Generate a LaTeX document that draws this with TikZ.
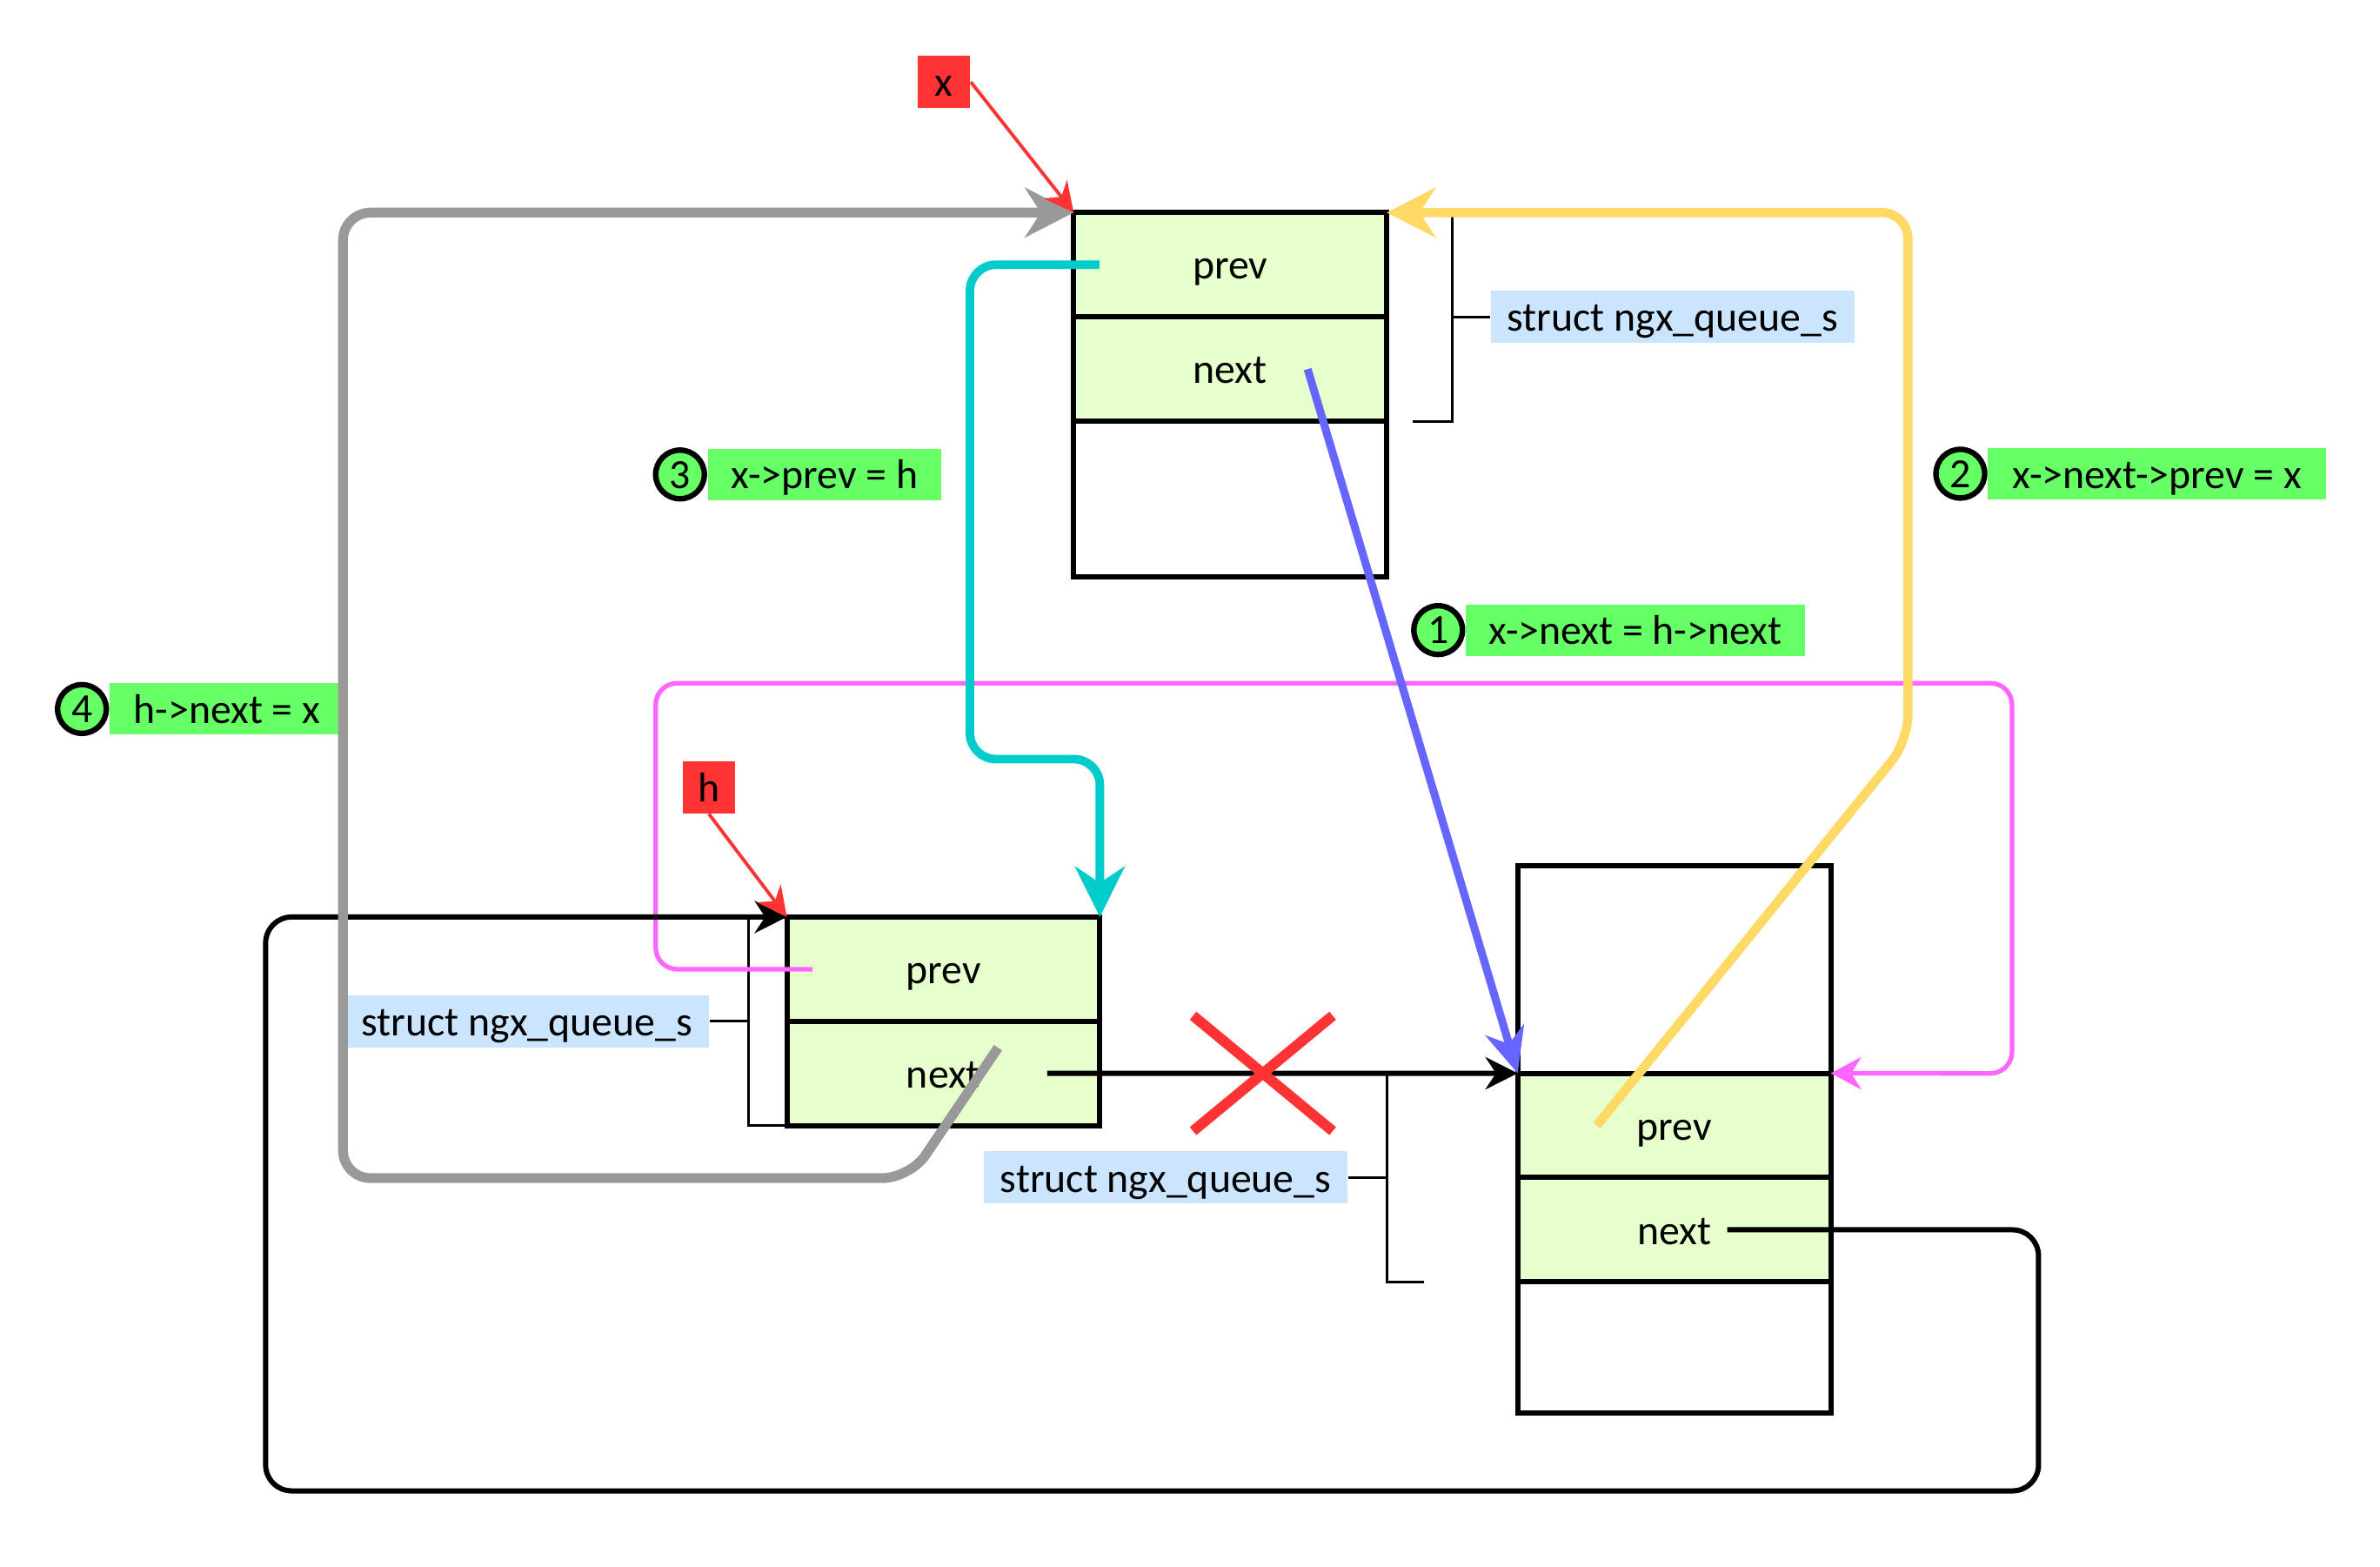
\documentclass[tikz,border=0pt]{standalone}
\usepackage{fontspec}
\setmainfont{Carlito}
\usetikzlibrary{arrows.meta,positioning}
\definecolor{cellgreen}{HTML}{E6FFCC}
\definecolor{stepgreen}{HTML}{66FF66}
\definecolor{ptrred}{HTML}{FF3333}
\definecolor{lblblue}{HTML}{CCE5FF}
\definecolor{linkgray}{HTML}{999999}
\definecolor{linkyellow}{HTML}{FFD966}
\definecolor{linkcyan}{HTML}{00CCCC}
\definecolor{linkblue}{HTML}{6666FF}
\definecolor{linkpink}{HTML}{FF66FF}

\begin{document}
\begin{tikzpicture}[x=0.01745cm,y=-0.01745cm,
		font=\fontsize{13.6pt}{16pt}\selectfont,
		every node/.style={text height=11pt,text depth=1.5pt},
		cell/.style={draw,line width=1.7pt,fill=cellgreen,minimum width=3.6cm,minimum height=1.2cm,inner sep=0pt,outer sep=0pt},
		blank/.style={cell,fill=white},
		ptr/.style={fill=ptrred,minimum width=0.6cm,minimum height=0.6cm,inner sep=0pt},
		structlbl/.style={fill=lblblue,minimum width=4.18cm,minimum height=0.6cm,inner sep=0pt},
		stepnum/.style={circle,draw,line width=1.8pt,fill=stepgreen,minimum size=0.56cm,inner sep=0pt,text height=9pt,text depth=0pt},
		stepbox/.style={fill=stepgreen,minimum height=0.59cm,inner sep=0pt},
		brace/.style={line width=0.9pt},
		ptrline/.style={draw=ptrred,line width=1.1pt,-{Stealth[length=0.34cm,width=0.34cm]}},
		blacklink/.style={line width=1.7pt,rounded corners=8.5pt,-{Stealth[length=0.37cm,width=0.37cm]}},
		pinklink/.style={draw=linkpink,line width=1.5pt,rounded corners=7pt,-{Stealth[length=0.35cm,width=0.37cm]}},
		graylink/.style={draw=linkgray,line width=3.2pt,rounded corners=9pt,-{Stealth[length=0.56cm,width=0.57cm]}},
		cyanlink/.style={draw=linkcyan,line width=2.8pt,rounded corners=8.5pt,-{Stealth[length=0.58cm,width=0.57cm]}},
		bluelink/.style={draw=linkblue,line width=2.6pt,-{Stealth[length=0.52cm,width=0.46cm]}},
		yellowlink/.style={draw=linkyellow,line width=3pt,rounded corners=8.5pt,-{Stealth[length=0.56cm,width=0.57cm]}},
		cross/.style={draw=ptrred,line width=3.4pt}]
	\useasboundingbox (0,0) rectangle (1568,1032);

	\node[cell,anchor=north] (xprev) at (810.5,140) {prev};
	\node[cell,below=0pt of xprev] (xnext) {next};
	\node[blank,below=0pt of xnext,minimum height=1.79cm] (xrest) {};

	\node[cell,anchor=north] (hprev) at (621.5,604) {prev};
	\node[cell,below=0pt of hprev] (hnext) {next};

	\node[blank,anchor=north,minimum height=2.39cm] (nhead) at (1103,570) {};
	\node[cell,below=0pt of nhead] (nprev) {prev};
	\node[cell,below=0pt of nprev] (nnext) {next};
	\node[blank,below=0pt of nnext,minimum height=1.51cm] (ntail) {};

	\node[ptr] (xptr) at (622,54) {x};
	\node[ptr] (hptr) at (467,518.5) {h};

	\node[structlbl,right=1.19cm of xprev.south east] (sx) {struct ngx\_queue\_s};
	\node[structlbl,left=0.89cm of hprev.south west] (sh) {struct ngx\_queue\_s};
	\node[structlbl,left=1.95cm of nprev.south west] (sn) {struct ngx\_queue\_s};

	\node[stepnum] (c1) at (947.5,415) {1};
	\node[stepbox,minimum width=3.9cm,right=0pt of c1] (t1) {x->next = h->next};
	\node[stepnum] (c2) at (1291.5,312) {2};
	\node[stepbox,minimum width=3.89cm,right=0pt of c2] (t2) {x->next->prev = x};
	\node[stepnum] (c3) at (448,312.5) {3};
	\node[stepbox,minimum width=2.69cm,right=0pt of c3] (t3) {x->prev = h};
	\node[stepnum] (c4) at (54,467) {4};
	\node[stepbox,minimum width=2.7cm,right=0pt of c4] (t4) {h->next = x};

	\draw[brace] ([shift={(17,0)}]xprev.north east) -| ([shift={(43,0)}]xnext.south east) -- ([shift={(17,0)}]xnext.south east);
	\draw[brace] ([shift={(43,0)}]xprev.south east) -- (sx.west);
	\draw[brace] (hprev.north west) -| ([shift={(-25,0)}]hnext.south west) -- (hnext.south west);
	\draw[brace] (sh.east) -- ([shift={(-25,0)}]hprev.south west);
	\draw[brace] ([shift={(-62,0)}]nprev.north west) -| ([shift={(-86,0)}]nnext.south west) -- ([shift={(-62,0)}]nnext.south west);
	\draw[brace] (sn.east) -- ([shift={(-86,0)}]nprev.south west);

	\draw[pinklink] ([shift={(17,0)}]hprev.west) -| (432,450) -| (1325.5,707) -- (nprev.north east);
	\draw[blacklink] ([shift={(35,0)}]nnext.center) -| (1343,982) -- (175,982) |- (hprev.north west);
	\draw[blacklink] ([shift={(68.5,-0.2)}]hnext.center) -- (nprev.north west);

	\draw[graylink] ([shift={(36,-17)}]hnext.center) -- (599.5,776) -- (226,776) |- (xprev.north west);
	\draw[cyanlink] ([shift={(17,0)}]xprev.west) -| (639,500) -| (hprev.north east);
	\draw[bluelink] ([shift={(51,0)}]xnext.center) -- (nprev.north west);
	\draw[yellowlink] ([shift={(-51,0)}]nprev.center) -- (1257,488) |- (xprev.north east);

	\coordinate (cut) at (832,707);
	\draw[cross] ([shift={(-46,-38)}]cut) -- ([shift={(46,38)}]cut)
		([shift={(46,-38)}]cut) -- ([shift={(-46,38)}]cut);

	\draw[ptrline] (xptr.east) -- (xprev.north west);
	\draw[ptrline] (hptr.south) -- (hprev.north west);
\end{tikzpicture}
\end{document}
